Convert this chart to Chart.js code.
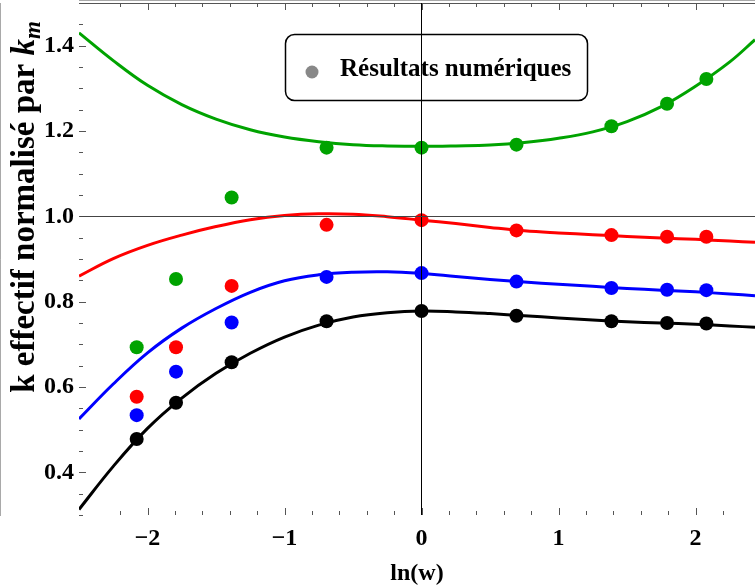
<!DOCTYPE html>
<html lang="fr">
<head>
<meta charset="UTF-8">
<title>k effectif normalisé par k_m</title>
<script src="https://cdn.jsdelivr.net/npm/chart.js"></script>
<style>
    html, body { margin: 0; padding: 0; background: #fff; overflow: hidden; }
    #wrap { width: 755px; height: 588px; }
</style>
</head>
<body>
<div id="wrap"><canvas id="chart"></canvas></div>
<script>
// points numériques : ln(w) pour w = 1/8, 1/6, 1/4, 1/2, 1, 2, 4, 6, 8
const lnW = [-2.079, -1.792, -1.386, -0.693, 0, 0.693, 1.386, 1.792, 2.079];
const ptsVert  = [0.693, 0.853, 1.044, 1.161, 1.161, 1.168, 1.211, 1.264, 1.322];
const ptsRouge = [0.577, 0.693, 0.837, 0.980, 0.991, 0.967, 0.956, 0.952, 0.952];
const ptsBleu  = [0.534, 0.636, 0.751, 0.858, 0.867, 0.847, 0.832, 0.828, 0.827];
const ptsNoir  = [0.478, 0.563, 0.658, 0.754, 0.778, 0.767, 0.754, 0.750, 0.749];

// courbes analytiques
const curveX = [-2.5, -2.25, -2, -1.75, -1.5, -1.25, -1, -0.75, -0.5, -0.25, 0,
                0.25, 0.5, 0.75, 1, 1.25, 1.5, 1.75, 2, 2.25, 2.434];
const courbeVert  = [1.430, 1.365, 1.307, 1.262, 1.228, 1.203, 1.186, 1.175, 1.168, 1.165, 1.164,
                     1.165, 1.167, 1.173, 1.183, 1.198, 1.222, 1.257, 1.305, 1.362, 1.414];
const courbeRouge = [0.860, 0.901, 0.932, 0.956, 0.976, 0.992, 1.002, 1.006, 1.005, 0.999, 0.991,
                     0.983, 0.974, 0.966, 0.961, 0.957, 0.953, 0.949, 0.946, 0.942, 0.939];
const courbeBleu  = [0.525, 0.607, 0.680, 0.738, 0.784, 0.822, 0.849, 0.863, 0.869, 0.870, 0.866,
                     0.859, 0.852, 0.846, 0.841, 0.836, 0.831, 0.827, 0.823, 0.818, 0.814];
const courbeNoir  = [0.313, 0.414, 0.503, 0.574, 0.632, 0.679, 0.717, 0.745, 0.764, 0.774, 0.778,
                     0.776, 0.772, 0.767, 0.762, 0.757, 0.753, 0.750, 0.747, 0.743, 0.740];

const xLabels = [-2, -1, 0, 1, 2];
const yLabels = [0.4, 0.6, 0.8, 1.0, 1.2, 1.4];
const legendeTexte = 'Résultats numériques';

const VERT = '#00a300', ROUGE = '#ff0000', BLEU = '#0000ff', NOIR = '#000000';
const serif = "'Liberation Serif', 'Times New Roman', serif";
const cadreCouleur = '#555';

function pts(xs, ys) {
    return xs.map((x, i) => ({ x: x, y: ys[i] }));
}
function near(v, list) {
    return list.some(l => Math.abs(v - l) < 1e-6);
}
function multiple(v, step) {
    return Math.abs(v / step - Math.round(v / step)) < 1e-6;
}

function courbe(data, color) {
    return {
        type: 'line', data: pts(curveX, data), borderColor: color, borderWidth: 3,
        pointRadius: 0, fill: false, tension: 0.4, order: 2
    };
}
function nuage(data, color) {
    return {
        type: 'scatter', data: pts(lnW, data), backgroundColor: color, borderWidth: 0,
        pointRadius: 7, pointHoverRadius: 7, order: 1
    };
}

// petits traits de graduation vers l'intérieur + bord du haut
const cadre = {
    id: 'cadre',
    afterDatasetsDraw(chart) {
        const { ctx, chartArea: a, scales: { x, y } } = chart;
        ctx.save();
        ctx.strokeStyle = cadreCouleur;
        ctx.lineWidth = 1;
        ctx.beginPath();
        ctx.moveTo(a.left, a.top + 0.5);
        ctx.lineTo(a.right, a.top + 0.5);
        x.ticks.forEach(t => {
            if (!multiple(t.value, 0.2)) return;
            const px = Math.round(x.getPixelForValue(t.value)) + 0.5;
            const len = multiple(t.value, 1) ? 7 : 4;
            ctx.moveTo(px, a.bottom); ctx.lineTo(px, a.bottom - len);
            ctx.moveTo(px, a.top); ctx.lineTo(px, a.top + len);
        });
        y.ticks.forEach(t => {
            if (!multiple(t.value, 0.05)) return;
            const py = Math.round(y.getPixelForValue(t.value)) + 0.5;
            const len = multiple(t.value, 0.2) ? 7 : 4;
            ctx.moveTo(a.left, py); ctx.lineTo(a.left + len, py);
        });
        ctx.stroke();
        ctx.restore();
    }
};

// titre vertical avec k_m en italique
const titreY = {
    id: 'titreY',
    afterDraw(chart) {
        const ctx = chart.ctx;
        const fBold = 'bold 33px ' + serif;
        const fItal = 'italic bold 33px ' + serif;
        const fSub = 'italic bold 23px ' + serif;
        const t1 = 'k effectif normalisé par ';
        ctx.save();
        ctx.font = fBold; const w1 = ctx.measureText(t1).width;
        ctx.font = fItal; const w2 = ctx.measureText('k').width;
        ctx.font = fSub; const w3 = ctx.measureText('m').width;
        const total = w1 + w2 + w3;
        ctx.translate(34, 207);
        ctx.rotate(-Math.PI / 2);
        ctx.fillStyle = '#000';
        ctx.textBaseline = 'alphabetic';
        let xx = -total / 2;
        ctx.font = fBold; ctx.fillText(t1, xx, 0); xx += w1;
        ctx.font = fItal; ctx.fillText('k', xx, 0); xx += w2;
        ctx.font = fSub; ctx.fillText('m', xx, 6);
        ctx.restore();
    }
};

// encadré de légende
const legende = {
    id: 'legende',
    afterDraw(chart) {
        const ctx = chart.ctx;
        ctx.save();
        ctx.strokeStyle = '#000';
        ctx.lineWidth = 1.5;
        ctx.beginPath();
        ctx.roundRect(285.5, 34.5, 302, 66, 9);
        ctx.stroke();
        ctx.fillStyle = '#888';
        ctx.beginPath();
        ctx.arc(312, 72, 6.5, 0, Math.PI * 2);
        ctx.fill();
        ctx.fillStyle = '#000';
        ctx.font = 'bold 25px ' + serif;
        ctx.textBaseline = 'alphabetic';
        ctx.fillText(legendeTexte, 340, 76);
        ctx.restore();
    }
};

new Chart(document.getElementById('chart'), {
    type: 'scatter',
    data: {
        datasets: [
            nuage(ptsVert, VERT), nuage(ptsRouge, ROUGE), nuage(ptsBleu, BLEU), nuage(ptsNoir, NOIR),
            courbe(courbeVert, VERT), courbe(courbeRouge, ROUGE), courbe(courbeBleu, BLEU), courbe(courbeNoir, NOIR)
        ]
    },
    options: {
        responsive: true,
        maintainAspectRatio: false,
        animation: false,
        layout: { autoPadding: false, padding: { top: 3, right: 0, left: 0, bottom: 0 } },
        plugins: { legend: { display: false }, tooltip: { enabled: false } },
        scales: {
            x: {
                type: 'linear', min: -2.5, max: 2.434,
                afterFit(scale) {
                    scale.height = 73;
                    scale.paddingLeft = 0; scale.paddingRight = 0;
                },
                ticks: {
                    stepSize: 0.2, autoSkip: false, maxRotation: 0, padding: 9,
                    color: '#000', font: { family: serif, size: 24, weight: 'bold' },
                    callback: v => near(v, xLabels) ? (v < 0 ? '\u2212' + Math.abs(Math.round(v)) : String(Math.round(v))) : ''
                },
                grid: {
                    z: 1, drawTicks: false, lineWidth: 1,
                    color: c => (c.tick && Math.abs(c.tick.value) < 1e-9) ? '#000' : 'rgba(0,0,0,0)'
                },
                border: { display: true, color: cadreCouleur, width: 1 },
                title: {
                    display: true, text: 'ln(w)', color: '#000', padding: { top: 0, bottom: 0 },
                    font: { family: serif, size: 24, weight: 'bold' }
                }
            },
            y: {
                type: 'linear', min: 0.3, max: 1.5,
                afterFit(scale) {
                    scale.width = 79;
                    scale.paddingTop = 0; scale.paddingBottom = 0;
                },
                ticks: {
                    stepSize: 0.05, autoSkip: false, padding: 5,
                    color: '#000', font: { family: serif, size: 24, weight: 'bold' },
                    callback: v => near(v, yLabels) ? v.toFixed(1) : ''
                },
                grid: {
                    z: 1, drawTicks: false, lineWidth: 1,
                    color: c => (c.tick && Math.abs(c.tick.value - 1) < 1e-9) ? '#444' : 'rgba(0,0,0,0)'
                },
                border: { display: true, color: cadreCouleur, width: 1 }
            }
        }
    },
    plugins: [cadre, titreY, legende]
});
</script>
</body>
</html>
